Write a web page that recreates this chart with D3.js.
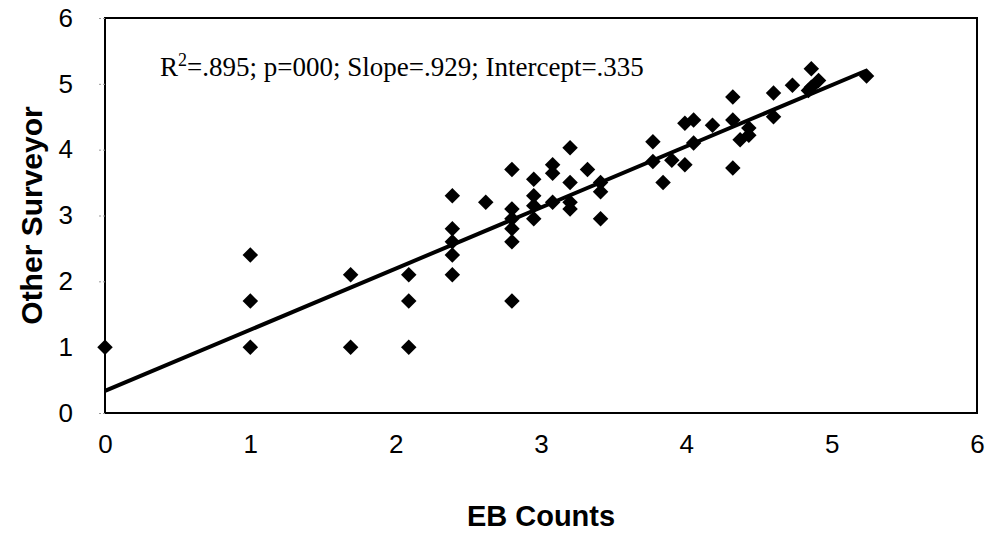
<!DOCTYPE html>
<html>
<head>
<meta charset="utf-8">
<script src="https://cdn.jsdelivr.net/npm/d3@7"></script>
<style>
  body { margin: 0; background: #fff; }
  svg { display: block; }
</style>
</head>
<body>
<script>
// EB counts vs other surveyor
const ebCounts = [
  0,
  1.0, 1.0, 1.0,
  1.69, 1.69,
  2.09, 2.09, 2.09,
  2.39, 2.39, 2.39, 2.39, 2.39,
  2.62,
  2.8, 2.8, 2.8, 2.8, 2.8, 2.8,
  2.95, 2.95, 2.95, 2.95,
  3.08, 3.08, 3.08,
  3.2, 3.2, 3.2, 3.2,
  3.32,
  3.41, 3.41, 3.41,
  3.77, 3.77,
  3.84,
  3.9,
  3.99, 3.99,
  4.05, 4.05,
  4.18,
  4.32, 4.32, 4.32,
  4.37,
  4.43, 4.43,
  4.6, 4.6,
  4.73,
  4.84, 4.86, 4.86,
  4.91,
  5.24
];
const otherSurveyor = [
  1.0,
  2.4, 1.7, 1.0,
  2.1, 1.0,
  2.1, 1.7, 1.0,
  3.3, 2.8, 2.6, 2.4, 2.1,
  3.2,
  3.7, 3.1, 2.95, 2.8, 2.6, 1.7,
  3.55, 3.3, 3.15, 2.95,
  3.77, 3.64, 3.2,
  4.03, 3.5, 3.2, 3.1,
  3.7,
  3.5, 3.36, 2.95,
  4.12, 3.82,
  3.5,
  3.84,
  4.4, 3.77,
  4.45, 4.1,
  4.37,
  4.8, 4.45, 3.72,
  4.15,
  4.33, 4.22,
  4.86, 4.5,
  4.98,
  4.9, 5.23, 4.95,
  5.05,
  5.12
];
const xTicks = [0, 1, 2, 3, 4, 5, 6];
const yTicks = [0, 1, 2, 3, 4, 5, 6];
const slope = 0.929;
const intercept = 0.335;
const fitRange = [0, 5.24];
const statsText = ["R", "2", "=.895; p=000; Slope=.929; Intercept=.335"];

const width = 994, height = 533;
const margin = {top: 18, right: 17, bottom: 120, left: 105};

const x = d3.scaleLinear()
  .domain([0, 6])
  .range([margin.left, width - margin.right]);

const y = d3.scaleLinear()
  .domain([0, 6])
  .range([height - margin.bottom, margin.top]);

const svg = d3.select("body").append("svg")
  .attr("width", width)
  .attr("height", height);

// plot frame
svg.append("rect")
  .attr("x", x(0))
  .attr("y", y(6))
  .attr("width", x(6) - x(0))
  .attr("height", y(0) - y(6))
  .attr("fill", "none")
  .attr("stroke", "#000")
  .attr("stroke-width", 2);

// y axis
const yAxis = svg.append("g")
  .attr("transform", `translate(${x(0)},0)`)
  .call(d3.axisLeft(y).tickValues(yTicks).tickSize(6).tickPadding(26).tickFormat(d3.format("d")));
yAxis.select(".domain").remove();
yAxis.selectAll(".tick line").attr("stroke", "#999").attr("stroke-dasharray", "2,2");
yAxis.selectAll(".tick text")
  .attr("font-family", "Liberation Sans, Arial, sans-serif")
  .attr("font-size", 26)
  .attr("fill", "#000");

// x axis
const xAxis = svg.append("g")
  .attr("transform", `translate(0,${y(0)})`)
  .call(d3.axisBottom(x).tickValues(xTicks).tickSize(0).tickPadding(22).tickFormat(d3.format("d")));
xAxis.select(".domain").remove();
xAxis.selectAll(".tick text")
  .attr("font-family", "Liberation Sans, Arial, sans-serif")
  .attr("font-size", 26)
  .attr("fill", "#000");

// regression line
svg.append("line")
  .attr("x1", x(fitRange[0]))
  .attr("y1", y(intercept + slope * fitRange[0]))
  .attr("x2", x(fitRange[1]))
  .attr("y2", y(intercept + slope * fitRange[1]))
  .attr("stroke", "#000")
  .attr("stroke-width", 4);

// diamonds
const diamond = d3.symbol().type(d3.symbolSquare).size(120);
svg.append("g")
  .selectAll("path")
  .data(ebCounts.map((d, i) => [d, otherSurveyor[i]]))
  .join("path")
  .attr("d", diamond)
  .attr("transform", d => `translate(${x(d[0])},${y(d[1])}) rotate(45)`)
  .attr("fill", "#000");

// stats annotation
const stats = svg.append("text")
  .attr("x", 160)
  .attr("y", 76)
  .attr("font-family", "Liberation Serif, Times New Roman, serif")
  .attr("font-size", 27)
  .attr("fill", "#000");
stats.append("tspan").text(statsText[0]);
stats.append("tspan").attr("dy", -10).attr("font-size", 18).text(statsText[1]);
stats.append("tspan").attr("dy", 10).text(statsText[2]);

// axis titles
svg.append("text")
  .attr("x", (x(0) + x(6)) / 2)
  .attr("y", 526)
  .attr("text-anchor", "middle")
  .attr("font-family", "Liberation Sans, Arial, sans-serif")
  .attr("font-weight", "bold")
  .attr("font-size", 29)
  .text("EB Counts");

svg.append("text")
  .attr("transform", `translate(42,${(y(0) + y(6)) / 2}) rotate(-90)`)
  .attr("text-anchor", "middle")
  .attr("font-family", "Liberation Sans, Arial, sans-serif")
  .attr("font-weight", "bold")
  .attr("font-size", 30)
  .text("Other Surveyor");
</script>
</body>
</html>
